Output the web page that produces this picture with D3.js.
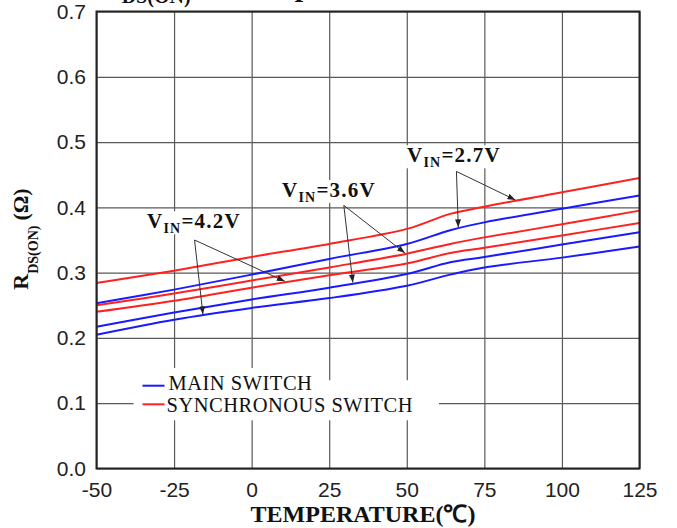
<!DOCTYPE html>
<html>
<head>
<meta charset="utf-8">
<script src="https://d3js.org/d3.v7.min.js"></script>
<style>
  body { margin: 0; background: #fff; }
</style>
</head>
<body>
<script>
let temps = [-50, -25, 0, 25, 50, 64, 75, 100, 125];

// RDS(ON) in ohms
let main27 = [0.253, 0.274, 0.297, 0.321, 0.344, 0.365, 0.377, 0.398, 0.418];
let main36 = [0.217, 0.239, 0.259, 0.277, 0.298, 0.316, 0.324, 0.343, 0.362];
let main42 = [0.205, 0.228, 0.246, 0.261, 0.280, 0.297, 0.308, 0.323, 0.340];
let sync27 = [0.284, 0.303, 0.324, 0.344, 0.367, 0.390, 0.401, 0.423, 0.445];
let sync36 = [0.250, 0.268, 0.288, 0.308, 0.329, 0.344, 0.354, 0.374, 0.395];
let sync42 = [0.240, 0.257, 0.277, 0.296, 0.314, 0.330, 0.338, 0.357, 0.376];

let xTicks = [-50, -25, 0, 25, 50, 75, 100, 125];
let yTicks = [0, 0.1, 0.2, 0.3, 0.4, 0.5, 0.6, 0.7];

// annotations: label, where the label sits, where the arrows start, what they point at
let vinLabels = ["2.7V", "3.6V", "4.2V"];
let labelAt = [[50.1, 0.469], [9.8, 0.416], [-33.7, 0.368]];
let arrowFrom = [[66.0, 0.455], [29.7, 0.403], [-18.4, 0.350]];
let arrowTo = [
    [[66.6, "main27"], [85.0, "sync27"]],
    [[49.4, "sync36"], [32.6, "main36"]],
    [[10.7, "sync42"], [-15.7, "main42"]]
];

let legendNames = ["MAIN SWITCH", "SYNCHRONOUS SWITCH"];

let blue = "#1a1aff", red = "#ff2020";
let serif = "'Liberation Serif', 'Times New Roman', serif";
let sans = "'Liberation Sans', Arial, sans-serif";

let series = {
    main27: {values: main27, color: blue},
    main36: {values: main36, color: blue},
    main42: {values: main42, color: blue},
    sync27: {values: sync27, color: red},
    sync36: {values: sync36, color: red},
    sync42: {values: sync42, color: red}
};

let width = 677, height = 528;
let margin = {top: 11.5, right: 37.5, bottom: 59.5, left: 96.5};

let svg = d3.select("body").append("svg")
    .attr("width", width)
    .attr("height", height);

let x = d3.scaleLinear().domain([-50, 125]).range([margin.left, width - margin.right]);
let y = d3.scaleLinear().domain([0, 0.7]).range([height - margin.bottom, margin.top]);

let plotW = x(125) - x(-50), plotH = y(0) - y(0.7);

// grid + tick labels
svg.append("g")
    .attr("transform", `translate(0,${y(0)})`)
    .call(d3.axisBottom(x).tickValues(xTicks).tickSize(-plotH).tickPadding(13.5)
        .tickFormat(d => String(d)))
    .call(g => g.select(".domain").remove())
    .call(g => g.selectAll("line").attr("stroke", "#5a5a5a").attr("stroke-width", 1.2))
    .call(g => g.selectAll("text").attr("font-size", 21).attr("font-family", sans).attr("fill", "#222"));

svg.append("g")
    .attr("transform", `translate(${x(-50)},0)`)
    .call(d3.axisLeft(y).tickValues(yTicks).tickSize(-plotW).tickPadding(10.5)
        .tickFormat(d3.format(".1f")))
    .call(g => g.select(".domain").remove())
    .call(g => g.selectAll("line").attr("stroke", "#5a5a5a").attr("stroke-width", 1.2))
    .call(g => g.selectAll("text").attr("font-size", 21).attr("font-family", sans).attr("fill", "#222"));

// title, mostly cut off at the top
let title = svg.append("text")
    .attr("x", 100).attr("y", -4)
    .attr("font-family", serif).attr("font-weight", "bold").attr("font-size", 30)
    .attr("fill", "#111");
title.append("tspan").text("R");
title.append("tspan").attr("font-size", 20).attr("dy", 7).text("DS(ON)");
title.append("tspan").attr("dy", -7).text(" vs. Temperature");

// axis titles
svg.append("text")
    .attr("x", 363).attr("y", 521.5)
    .attr("text-anchor", "middle")
    .attr("font-family", serif).attr("font-weight", "bold").attr("font-size", 24)
    .attr("fill", "#111")
    .text("TEMPERATURE(\u2103)");

let ylab = svg.append("text")
    .attr("transform", "translate(27.5,239) rotate(-90)")
    .attr("text-anchor", "middle")
    .attr("font-family", serif).attr("font-weight", "bold").attr("font-size", 22)
    .attr("fill", "#111");
ylab.append("tspan").text("R");
ylab.append("tspan").attr("font-size", 14).attr("dy", 10).text("DS(ON)");
ylab.append("tspan").attr("dy", -10).attr("dx", 5).text("(\u03a9)");

// curves
let line = d3.line()
    .x((d, i) => x(temps[i]))
    .y(d => y(d))
    .curve(d3.curveCatmullRom.alpha(0.5));

svg.append("g")
    .selectAll("path")
    .data(Object.values(series))
    .join("path")
        .attr("d", d => line(d.values))
        .attr("fill", "none")
        .attr("stroke", d => d.color)
        .attr("stroke-width", 2);

// arrow annotations
svg.append("defs").append("marker")
    .attr("id", "head")
    .attr("viewBox", "0 0 8 6")
    .attr("markerUnits", "userSpaceOnUse")
    .attr("markerWidth", 8).attr("markerHeight", 6)
    .attr("refX", 8).attr("refY", 3)
    .attr("orient", "auto")
    .append("path").attr("d", "M0,0L8,3L0,6Z").attr("fill", "#222");

function valueAt(key, t) {
    let v = series[key].values;
    let i = d3.bisectRight(temps, t) - 1;
    i = Math.max(0, Math.min(i, temps.length - 2));
    let f = (t - temps[i]) / (temps[i + 1] - temps[i]);
    return v[i] + f * (v[i + 1] - v[i]);
}

let notes = svg.append("g");
vinLabels.forEach((lab, k) => {
    arrowTo[k].forEach(([t, key]) => {
        notes.append("line")
            .attr("x1", x(arrowFrom[k][0])).attr("y1", y(arrowFrom[k][1]))
            .attr("x2", x(t)).attr("y2", y(valueAt(key, t)) - 1)
            .attr("stroke", "#333").attr("stroke-width", 1)
            .attr("marker-end", "url(#head)");
    });

    let txt = notes.append("text")
        .attr("x", x(labelAt[k][0])).attr("y", y(labelAt[k][1]))
        .attr("font-family", serif).attr("font-weight", "bold").attr("font-size", 21)
        .attr("letter-spacing", 1.2)
        .attr("fill", "#111");
    txt.append("tspan").text("V");
    txt.append("tspan").attr("font-size", 14).attr("dy", 5).text("IN");
    txt.append("tspan").attr("dy", -5).text("=" + lab);

    let bb = txt.node().getBBox();
    notes.insert("rect", () => txt.node())
        .attr("x", bb.x - 1).attr("y", bb.y + 2)
        .attr("width", bb.width + 2).attr("height", bb.height - 4)
        .attr("fill", "#fff");
});

// legend: white boxes behind each entry, entries on top
let legendBg = svg.append("g");
let legend = svg.append("g");
let legendColors = [blue, red];
let legendRows = [[x(-50) + 46, 385.7, 390], [x(-50) + 46, 404.3, 412.3]];
legendNames.forEach((name, i) => {
    let row = legend.append("g");
    let [lx, ly, ty] = legendRows[i];
    row.append("line")
        .attr("x1", lx).attr("x2", lx + 22)
        .attr("y1", ly).attr("y2", ly)
        .attr("stroke", legendColors[i]).attr("stroke-width", 2);
    row.append("text")
        .attr("x", lx + 26 - i * 2).attr("y", ty)
        .attr("font-family", serif).attr("font-size", 20.5)
        .attr("letter-spacing", 0.5)
        .attr("fill", "#111")
        .text(name);
    let bb = row.node().getBBox();
    let padTop = i === 0 ? 4 : 14;
    let padRight = i === 0 ? 6 : 26;
    legendBg.append("rect")
        .attr("x", bb.x - 9).attr("y", bb.y - padTop)
        .attr("width", bb.width + 9 + padRight).attr("height", bb.height + padTop + 4)
        .attr("fill", "#fff");
});

// plot frame
svg.append("rect")
    .attr("x", x(-50)).attr("y", y(0.7))
    .attr("width", plotW).attr("height", plotH)
    .attr("fill", "none")
    .attr("stroke", "#222")
    .attr("stroke-width", 2);
</script>
</body>
</html>
